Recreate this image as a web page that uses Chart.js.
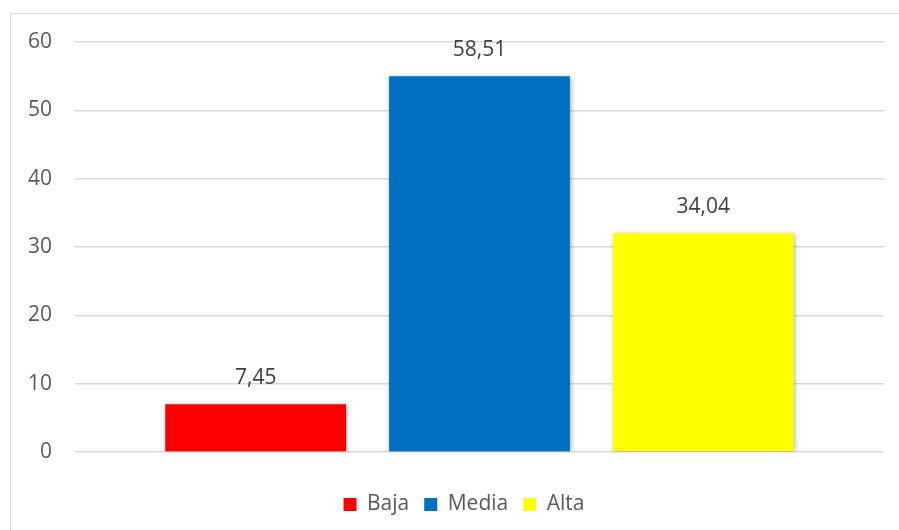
<!DOCTYPE html>
<html>
<head>
<meta charset="utf-8">
<script src="https://cdn.jsdelivr.net/npm/chart.js@4"></script>
<style>
  html, body { margin: 0; padding: 0; background: #fff; }
  #wrap { position: relative; width: 899px; height: 530px; }
</style>
</head>
<body>
<div id="wrap"><canvas id="niveles"></canvas></div>
<script>
// data
var series = ["Baja", "Media", "Alta"];
var values = [7, 55, 32];            // bar heights as drawn
var valueLabels = ["7,45", "58,51", "34,04"]; // labels printed above the bars
var colors = ["#ff0000", "#0070c0", "#ffff00"];
var yTicks = [0, 10, 20, 30, 40, 50, 60];

var ctx = document.getElementById("niveles").getContext('2d');

// outer frame like the spreadsheet chart area
var framePlugin = {
    id: 'frame',
    beforeDraw: function (chart) {
        var c = chart.ctx;
        c.save();
        c.strokeStyle = '#d9d9d9';
        c.lineWidth = 1;
        c.strokeRect(10.5, 13.5, 950, 600);
        c.restore();
    },
    // legend sits a bit right of canvas centre in the original
    afterLayout: function (chart) {
        if (chart.legend) {
            chart.legend.left += 22;
            chart.legend.right += 22;
        }
    }
};

// soft shadow under the bars
var shadowPlugin = {
    id: 'barShadow',
    beforeDatasetDraw: function (chart) {
        var c = chart.ctx;
        c.save();
        c.shadowColor = 'rgba(0,0,0,0.35)';
        c.shadowBlur = 5;
        c.shadowOffsetX = 1;
        c.shadowOffsetY = 1;
    },
    afterDatasetDraw: function (chart) {
        chart.ctx.restore();
    }
};

// value labels above bars
var labelPlugin = {
    id: 'valueLabels',
    afterDatasetsDraw: function (chart) {
        var c = chart.ctx;
        c.save();
        c.font = '21px "Open Sans"';
        c.fillStyle = '#404040';
        c.textAlign = 'center';
        c.textBaseline = 'middle';
        chart.data.datasets.forEach(function (ds, i) {
            var bar = chart.getDatasetMeta(i).data[0];
            c.fillText(valueLabels[i], bar.x, bar.y - 26);
        });
        c.restore();
    }
};

var datasets = series.map(function (name, i) {
    return {
        label: name,
        data: [values[i]],
        backgroundColor: colors[i],
        borderWidth: 0,
        categoryPercentage: 0.83,
        barPercentage: 0.808
    };
});

var chart = new Chart(ctx, {
    type: 'bar',
    data: {
        labels: [""],
        datasets: datasets
    },
    options: {
        responsive: true,
        maintainAspectRatio: false,
        animation: false,
        layout: { padding: { top: 42, right: 15, left: 0, bottom: 5 } },
        plugins: {
            legend: {
                position: 'bottom',
                labels: {
                    boxWidth: 13,
                    boxHeight: 13,
                    padding: 15,
                    color: '#595959',
                    font: { family: 'Open Sans', size: 21 }
                }
            },
            tooltip: { enabled: false }
        },
        scales: {
            x: {
                display: true,
                afterFit: function (scale) { scale.height = 27; },
                border: { display: false },
                grid: { display: false },
                ticks: { display: false }
            },
            y: {
                min: 0,
                max: 60,
                afterBuildTicks: function (scale) {
                    scale.ticks = yTicks.map(function (v) { return { value: v }; });
                },
                afterFit: function (scale) { scale.width = 75; },
                border: { display: false },
                grid: { color: '#d9d9d9', lineWidth: 1.5, drawTicks: false },
                ticks: {
                    padding: 23,
                    color: '#595959',
                    font: { family: 'Open Sans', size: 21 }
                }
            }
        }
    },
    plugins: [framePlugin, shadowPlugin, labelPlugin]
});
</script>
</body>
</html>
